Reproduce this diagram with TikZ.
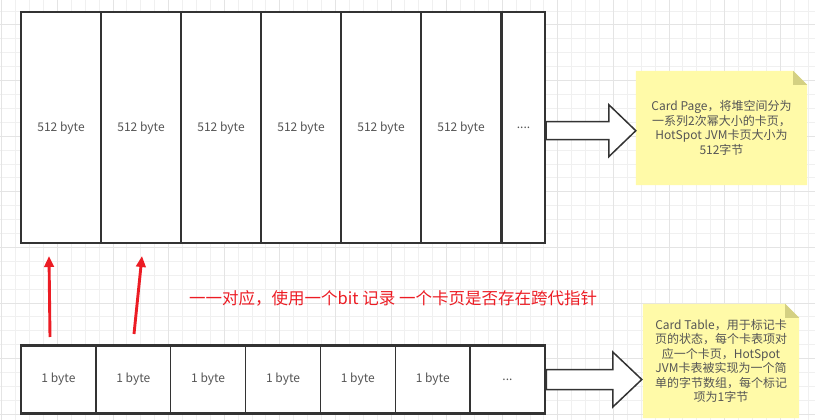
\documentclass[tikz,border=0pt]{standalone}
\usepackage{fontspec}
\setmainfont{Noto Sans CJK SC}
\usepackage{xcolor}
\definecolor{cvborder}{RGB}{51,51,51}
\definecolor{cvtext}{RGB}{85,85,85}
\definecolor{cvred}{RGB}{236,28,36}
\definecolor{cvnote}{RGB}{255,250,168}
\definecolor{cvfold}{RGB}{212,208,130}
\definecolor{cvgrid}{RGB}{240,240,240}
\definecolor{cvgridmajor}{RGB}{228,228,228}
\usetikzlibrary{arrows.meta,calc,backgrounds}

\begin{document}
\begin{tikzpicture}[x=1pt,y=-1pt,
  page/.style={draw=cvborder,line width=1.5pt,fill=white,minimum height=231pt,minimum width=80pt,inner sep=0pt,text=cvtext,font=\fontsize{12}{14}\selectfont},
  bytecell/.style={draw=cvborder,line width=1.3pt,fill=white,minimum height=67pt,minimum width=74.86pt,inner sep=0pt,text=cvtext,font=\fontsize{12}{14}\selectfont},
  frame/.style={draw=cvborder,line width=2pt,inner sep=0pt},
  note/.style={align=center,text=cvtext,inner sep=0pt,font=\fontsize{12}{14.5}\selectfont},
  fat/.style={draw=cvborder,line width=1.5pt,fill=white,line join=miter},
  redarrow/.style={draw=cvred,line width=2.9pt,-{Triangle[length=11pt,width=9.5pt]}}]
  \useasboundingbox (0,0) rectangle (815,420);
  \foreach \i in {0,...,5}
    \node[page] (p\i) at ({61+80*\i},127.7) {512 byte};
  \node[page,minimum width=43pt] (p6) at (523.5,127.7) {....};
  \node[frame,minimum width=524pt,minimum height=231pt] (pages) at (283,127.7) {};
  \foreach \i in {0,...,5}
    \node[bytecell] (b\i) at ({58.43+74.86*\i},379.5) {1 byte};
  \node[bytecell] (b6) at (507.45,379.5) {...};
  \node[frame,line width=2.6pt,minimum width=524pt,minimum height=69pt] (table) at (283,379.5) {};
  \node[note,minimum width=171pt,minimum height=114pt] (cpnote) at (721.5,128) {Card Page，将堆空间分为\\一系列2次幂大小的卡页，\\HotSpot JVM卡页大小为\\512字节};
  \node[note,minimum width=156pt,minimum height=114pt] (ctnote) at (721,361) {Card Table，用于标记卡\\页的状态，每个卡表项对\\应一个卡页，HotSpot\\JVM卡表被实现为一个简\\单的字节数组，每个标记\\项为1字节};
  \node[text=cvred,font=\fontsize{16.5}{18}\selectfont,anchor=west,inner sep=0pt] (maplabel) at (189,298) {一一对应，使用一个bit 记录 一个卡页是否存在跨代指针};
  \coordinate (ta) at ($(pages.east)+(0,3)$);
  \coordinate (tb) at (cpnote.west |- ta);
  \draw[fat] ($(ta)+(0,-9)$) -- ($(tb)+(-27,-9)$) -- ($(tb)+(-27,-26)$) -- (tb) -- ($(tb)+(-27,26)$) -- ($(tb)+(-27,9)$) -- ($(ta)+(0,9)$) -- cycle;
  \coordinate (ba) at (table.east);
  \coordinate (bb) at ($(ctnote.west |- ba)+(-1,0)$);
  \draw[fat] ($(ba)+(0,-10)$) -- ($(bb)+(-29,-10)$) -- ($(bb)+(-29,-27.5)$) -- (bb) -- ($(bb)+(-29,27.5)$) -- ($(bb)+(-29,10)$) -- ($(ba)+(0,10)$) -- cycle;
  \coordinate (r1s) at (50,337);
  \coordinate (r1e) at (49,256);
  \coordinate (r2s) at (134,334);
  \coordinate (r2e) at (142,256);
  \draw[redarrow] (r1s) -- (r1e);
  \draw[redarrow] (r2s) -- (r2e);
  \begin{scope}[on background layer]
    \foreach \i in {0,...,58}
      \draw[cvgrid,line width=0.8pt] ({1.7+13.9*\i},0) -- ({1.7+13.9*\i},420);
    \foreach \i in {0,...,30}
      \draw[cvgrid,line width=0.8pt] (0,{11+13.9*\i}) -- (815,{11+13.9*\i});
    \foreach \i in {0,...,14}
      \draw[cvgridmajor,line width=0.8pt] ({1.7+55.6*\i},0) -- ({1.7+55.6*\i},420);
    \foreach \i in {0,...,7}
      \draw[cvgridmajor,line width=0.8pt] (0,{24.9+55.6*\i}) -- (815,{24.9+55.6*\i});
    \foreach \n in {cpnote,ctnote} {
      \fill[cvnote] (\n.south west) -- (\n.north west) -- ($(\n.north east)+(-14,0)$) -- ($(\n.north east)+(0,14)$) -- (\n.south east) -- cycle;
      \fill[cvfold] ($(\n.north east)+(-14,0)$) -- ($(\n.north east)+(0,14)$) -- ($(\n.north east)+(-14,14)$) -- cycle;
    }
  \end{scope}
\end{tikzpicture}
\end{document}
